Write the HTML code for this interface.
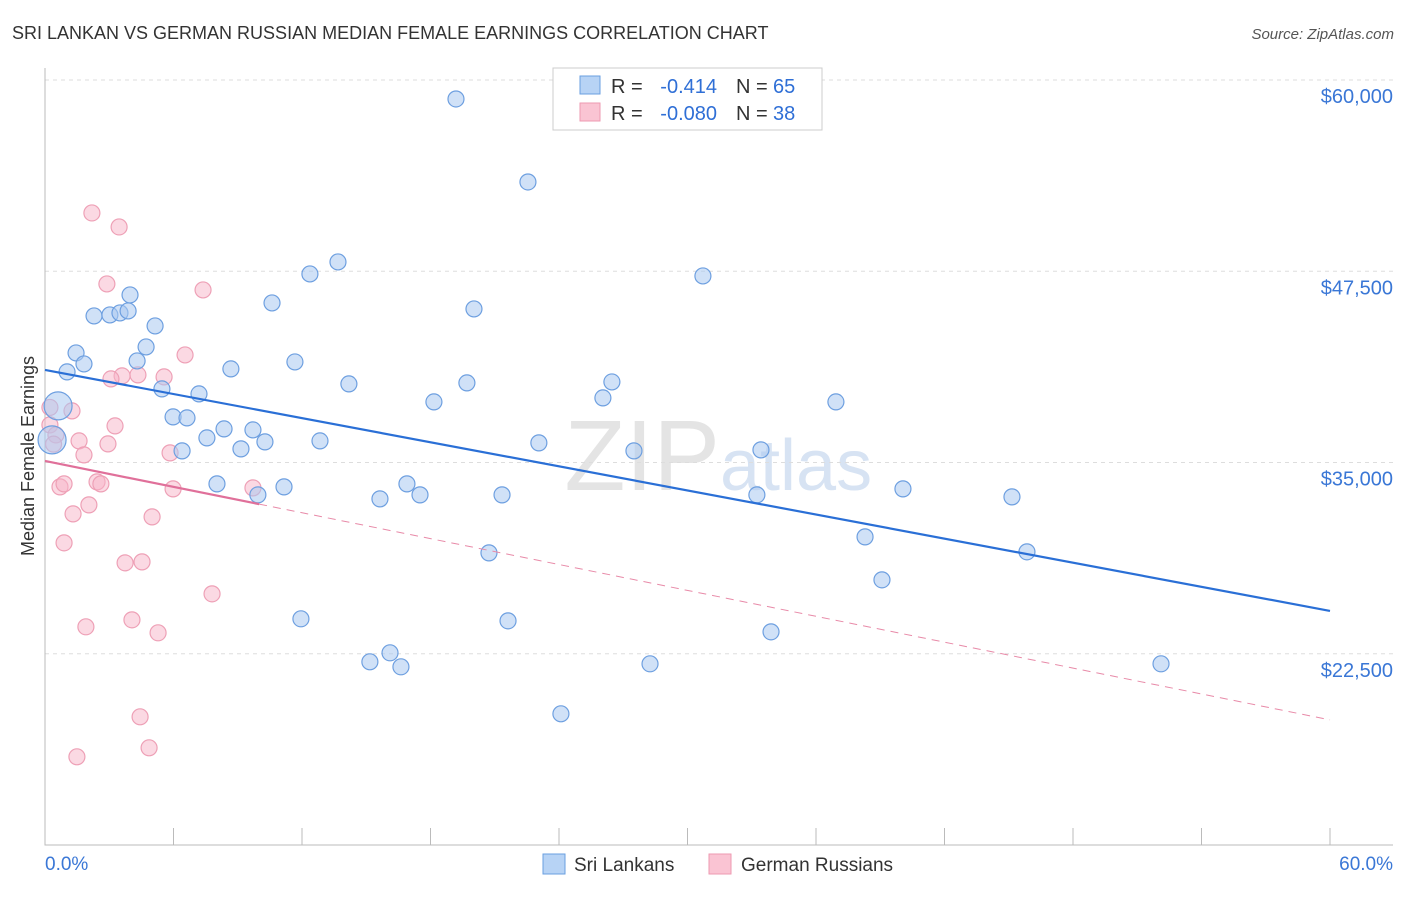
<!DOCTYPE html>
<html><head><meta charset="utf-8"><style>
body{margin:0;background:#fff;font-family:"Liberation Sans",sans-serif}
svg text{font-family:"Liberation Sans",sans-serif}
</style></head><body>
<svg id="c" width="1406" height="892">
<text x="12" y="39" font-size="18" fill="#333">SRI LANKAN VS GERMAN RUSSIAN MEDIAN FEMALE EARNINGS CORRELATION CHART</text>
<text x="1394" y="39" font-size="15" fill="#555" font-style="italic" text-anchor="end">Source: ZipAtlas.com</text>
<text x="720" y="490" font-size="100" fill="#e4e4e4" text-anchor="end" font-family="Liberation Serif">ZIP</text>
<text x="720" y="490" font-size="72" fill="#d7e3f3">atlas</text>
<g id="grid"></g><g id="axes"></g><g id="marks"></g>
<text transform="translate(34,456) rotate(-90)" font-size="18" fill="#333" text-anchor="middle">Median Female Earnings</text>
<g>
<rect x="553" y="68" width="269" height="62" fill="#fff" stroke="#ccc"/>
<rect x="580" y="76" width="20" height="18" fill="#b7d3f5" stroke="#6a9fe0"/>
<rect x="580" y="103" width="20" height="18" fill="#fac4d3" stroke="#ee9ab1"/>
<text x="611" y="93" font-size="20" fill="#333">R =</text>
<text x="717" y="93" font-size="20" fill="#2f6fd6" text-anchor="end">-0.414</text>
<text x="736" y="93" font-size="20" fill="#333">N =</text>
<text x="773" y="93" font-size="20" fill="#2f6fd6">65</text>
<text x="611" y="120" font-size="20" fill="#333">R =</text>
<text x="717" y="120" font-size="20" fill="#2f6fd6" text-anchor="end">-0.080</text>
<text x="736" y="120" font-size="20" fill="#333">N =</text>
<text x="773" y="120" font-size="20" fill="#2f6fd6">38</text>
</g>
<g>
<rect x="543" y="854" width="22" height="20" fill="#b7d3f5" stroke="#6a9fe0"/>
<text x="574" y="871" font-size="19" fill="#333">Sri Lankans</text>
<rect x="709" y="854" width="22" height="20" fill="#fac4d3" stroke="#ee9ab1"/>
<text x="741" y="871" font-size="19" fill="#333">German Russians</text>
</g>
</svg>
<script>
const yTicks=[22500,35000,47500,60000];
const yTickLabels=["$22,500","$35,000","$47,500","$60,000"];
const xTickVals=[0,6,12,18,24,30,36,42,48,54,60];
const xEndLabels=["0.0%","60.0%"];
const blueX=[19.19,22.55,13.68,12.37,30.72,3.97,10.60,2.29,3.03,3.50,3.88,20.03,5.14,4.72,1.45,1.82,4.30,11.67,1.03,8.68,26.47,19.70,14.19,5.46,7.19,26.05,18.16,36.93,0.61,5.98,6.63,8.36,9.71,7.56,12.84,10.27,23.06,0.33,6.40,9.15,33.43,27.50,8.03,11.16,16.90,40.06,15.64,17.51,21.34,33.24,45.15,9.94,38.29,45.85,20.73,39.08,11.95,21.62,33.90,16.11,15.17,16.62,28.25,52.11,24.09];
const blueY=[58760,53335,48108,47324,47193,45952,45429,44580,44645,44776,44906,45037,43926,42554,42162,41443,41639,41574,40921,41117,40267,40202,40137,39810,39483,39222,38961,38961,38699,37980,37915,37196,37131,36608,36412,36347,36282,36478,35759,35890,35824,35759,33603,33407,33603,33276,32623,32884,32884,32884,32753,32884,30140,29160,29094,27330,24782,24651,23932,22560,21972,21645,21841,21841,18574];
const pinkX=[2.19,3.46,2.89,7.38,6.54,4.34,5.56,3.60,3.08,1.26,3.27,0.23,1.59,2.94,5.84,1.82,0.51,0.70,0.89,2.43,2.61,5.98,9.71,2.05,1.31,5.00,0.89,3.74,4.53,7.80,1.91,4.06,5.28,4.44,4.86,1.49,0.40,0.23];
const pinkY=[51310,50395,46671,46279,42031,40725,40594,40660,40464,38372,37392,37458,36412,36216,35628,35497,36804,33407,33603,33733,33603,33276,33341,32230,31642,31446,29748,28441,28506,26415,24259,24716,23867,18378,16353,15765,36200,38600];
const blueTrend=[41050,25300];
const pinkTrend=[35100,18180];
const pinkSolidEnd=10;
const NS="http://www.w3.org/2000/svg";
const X=v=>45+v/60*1285, Y=v=>80+(60000-v)/50000*765;
function mk(t,a,p){const e=document.createElementNS(NS,t);for(const k in a)e.setAttribute(k,a[k]);document.getElementById(p).appendChild(e);return e;}
yTicks.forEach((t,i)=>{
 const l=mk('line',{x1:45,x2:1393,y1:Y(t),y2:Y(t),stroke:'#ddd','stroke-dasharray':'4,4'},'grid');
 
 
 const tx=mk('text',{x:1393,y:Y(t)+23,'font-size':20,fill:'#3a77d6','text-anchor':'end'},'grid');tx.textContent=yTickLabels[i];
 
 
});
const ax=mk('path',{d:'M45,68V845H1393',stroke:'#bbb',fill:'none'},'axes');


xTickVals.forEach(v=>{const t=mk('line',{x1:X(v),x2:X(v),y1:828,y2:845,stroke:'#bbb'},'axes');
 
 });
[[0,'start'],[60,'end']].forEach((p,i)=>{const t=mk('text',{x:i?1393:45,y:870,'font-size':19,fill:'#3a77d6','text-anchor':p[1]},'axes');t.textContent=xEndLabels[i];
 
 });
pinkX.forEach((x,i)=>{const c=mk('circle',{cx:X(x),cy:Y(pinkY[i]),r:8,fill:'rgba(248,180,200,0.5)',stroke:'#eea0b6','stroke-width':1.2},'marks');
 
 });
blueX.forEach((x,i)=>{const big=(i==28||i==37);const c=mk('circle',{cx:X(x),cy:Y(blueY[i]),r:big?14:8,fill:'rgba(170,200,240,0.55)',stroke:'#6d9fe0','stroke-width':1.2},'marks');
 
 });
const bl=mk('line',{x1:X(0),y1:Y(blueTrend[0]),x2:X(60),y2:Y(blueTrend[1]),stroke:'#2a6fd6','stroke-width':2.2},'marks');


const pe=pinkTrend[0]+(pinkTrend[1]-pinkTrend[0])*pinkSolidEnd/60;
const pd=mk('line',{x1:X(pinkSolidEnd),y1:Y(pe),x2:X(60),y2:Y(pinkTrend[1]),stroke:'#e88aa8','stroke-width':1,'stroke-dasharray':'8,6'},'marks');


const ps=mk('line',{x1:X(0),y1:Y(pinkTrend[0]),x2:X(pinkSolidEnd),y2:Y(pe),stroke:'#e0709a','stroke-width':2.2},'marks');


</script>
</body></html>
